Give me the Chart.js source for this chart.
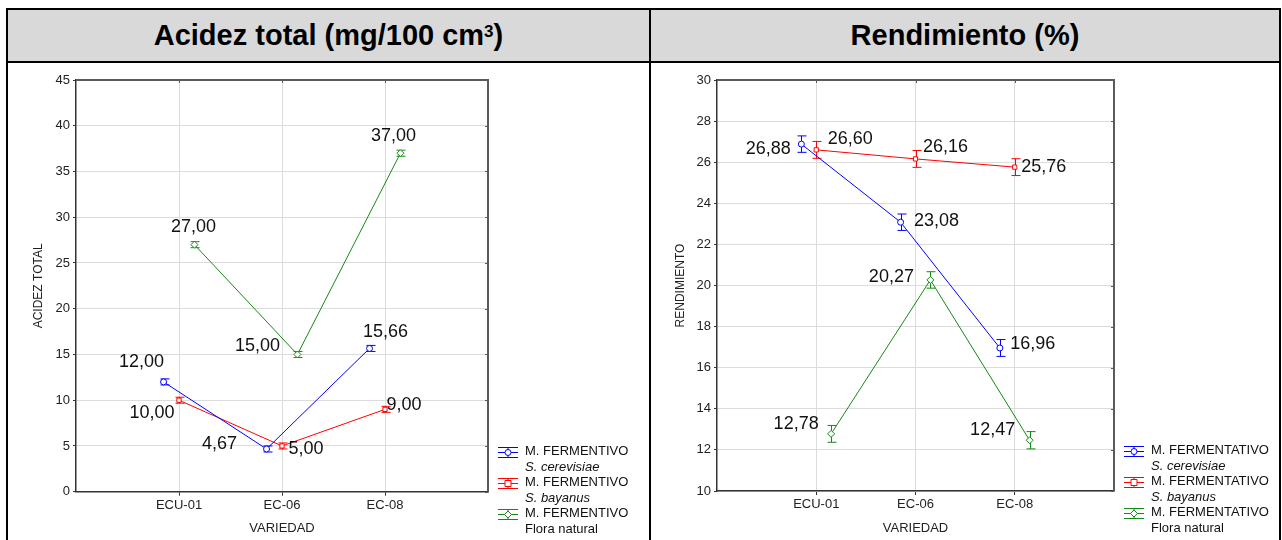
<!DOCTYPE html>
<html>
<head>
<meta charset="utf-8">
<script src="https://cdn.jsdelivr.net/npm/chart.js@4.4.1/dist/chart.umd.min.js"></script>
<style>
  html, body { margin: 0; padding: 0; background: #fff; }
  body { width: 1282px; height: 540px; overflow: hidden; position: relative;
         font-family: "Liberation Sans", Arial, sans-serif; }
  #frame { position: absolute; left: 6px; top: 8px; width: 1275px; height: 600px;
           border: 2px solid #000; box-sizing: border-box; }
  .band { position: absolute; top: 10px; height: 51px; background: #d9d9d9;
          display: flex; align-items: center; justify-content: center;
          font-weight: bold; font-size: 29px; color: #000; white-space: nowrap; }
  .band sup { font-size: 17px; position: relative; top: -4px; }
  #hline { position: absolute; left: 8px; top: 61px; width: 1271px; height: 2px; background: #000; }
  #vline { position: absolute; left: 649px; top: 8px; width: 2px; height: 540px; background: #000; }
  .box { position: absolute; top: 63px; height: 477px; }
</style>
</head>
<body>
<div id="frame"></div>
<div class="band" style="left:8px;width:641px;">Acidez total (mg/100 cm<sup>3</sup>)</div>
<div class="band" style="left:651px;width:628px;">Rendimiento (%)</div>
<div id="hline"></div>
<div id="vline"></div>
<div class="box" style="left:8px;width:641px;"><canvas id="acidez"></canvas></div>
<div class="box" style="left:651px;width:628px;"><canvas id="rendimiento"></canvas></div>

<script>
// Varieties on the horizontal axis
const varieties = ['ECU-01', 'EC-06', 'EC-08'];

// Total acidity (mg/100 cm3) per fermentation method
const acidezCerevisiae = [12.00, 4.67, 15.66];
const acidezBayanus    = [10.00, 5.00, 9.00];
const acidezFlora      = [27.00, 15.00, 37.00];
const acidezErrCerevisiae = [0.33, 0.33, 0.33];
const acidezErrBayanus    = [0.33, 0.33, 0.33];
const acidezErrFlora      = [0.33, 0.33, 0.33];

// Yield (%) per fermentation method
const rendCerevisiae = [26.88, 23.08, 16.96];
const rendBayanus    = [26.60, 26.16, 25.76];
const rendFlora      = [12.78, 20.27, 12.47];
const rendErrCerevisiae = [0.40, 0.40, 0.41];
const rendErrBayanus    = [0.41, 0.41, 0.41];
const rendErrFlora      = [0.41, 0.40, 0.42];

// Legend texts
const acidezMethodName = 'M. FERMENTIVO';
const rendMethodName   = 'M. FERMENTATIVO';
const yeastNames = ['S. cerevisiae', 'S. bayanus', 'Flora natural'];
const yeastItalic = [true, true, false];

// Styling
const colors  = ['#0000ff', '#ff0000', '#138a13'];
const markers = ['circle', 'rect', 'rectRot'];
const dodge   = [-0.15, 0, 0.15];
const FONT = '"Liberation Sans", Arial, sans-serif';

// Value-label offsets in pixels from each point
const acidezLabelOffsets = [
  [[-22, -20], [-47, -5], [16, -16]],
  [[-27, 13], [24, 3], [19, -4]],
  [[-1, -18], [-40, -8], [-7, -17]]
];
const rendLabelOffsets = [
  [[-33, 5], [36, -1], [33, -4]],
  [[34, -11], [30, -12], [29, 0]],
  [[-35, -10], [-39, -3], [-37, -10]]
];

const fmt = v => v.toFixed(2).replace('.', ',');

// Error bars, value labels, plot frame and legend
const decorations = {
  id: 'decorations',
  beforeDatasetsDraw(chart) {
    const ctx = chart.ctx, ys = chart.scales.y;
    ctx.save();
    chart.data.datasets.forEach((ds, k) => {
      const meta = chart.getDatasetMeta(k);
      ctx.strokeStyle = ds.borderColor;
      ctx.lineWidth = 1;
      meta.data.forEach((pt, i) => {
        const v = ds.data[i].y, e = ds.errors[i];
        const x = Math.round(pt.x) + 0.5;
        const y1 = ys.getPixelForValue(v + e), y2 = ys.getPixelForValue(v - e);
        ctx.beginPath();
        ctx.moveTo(x, y1); ctx.lineTo(x, y2);
        ctx.moveTo(x - 4, y1); ctx.lineTo(x + 5, y1);
        ctx.moveTo(x - 4, y2); ctx.lineTo(x + 5, y2);
        ctx.stroke();
      });
    });
    ctx.restore();
  },
  afterDraw(chart) {
    const ctx = chart.ctx, a = chart.chartArea;
    const xs = chart.scales.x, ys = chart.scales.y;
    ctx.save();
    // top and right frame with inward ticks
    ctx.strokeStyle = '#5a5a5a';
    ctx.lineWidth = 2;
    ctx.beginPath();
    ctx.moveTo(a.left, a.top); ctx.lineTo(a.right, a.top); ctx.lineTo(a.right, a.bottom);
    ctx.stroke();
    ctx.lineWidth = 1;
    ctx.beginPath();
    ys.ticks.forEach(t => {
      const y = Math.round(ys.getPixelForValue(t.value)) + 0.5;
      ctx.moveTo(a.right - 3, y); ctx.lineTo(a.right, y);
    });
    xs.ticks.forEach(t => {
      const x = Math.round(xs.getPixelForValue(t.value)) + 0.5;
      ctx.moveTo(x, a.top); ctx.lineTo(x, a.top + 3);
    });
    ctx.stroke();

    // value labels
    ctx.fillStyle = '#111';
    ctx.font = '18px ' + FONT;
    ctx.textAlign = 'center';
    ctx.textBaseline = 'middle';
    chart.data.datasets.forEach((ds, k) => {
      const meta = chart.getDatasetMeta(k);
      meta.data.forEach((pt, i) => {
        const off = ds.offsets[i];
        ctx.fillText(fmt(ds.data[i].y), pt.x + off[0], pt.y + off[1]);
      });
    });

    // legend
    const lx = a.right + 10, tx = a.right + 37;
    let ly = chart.options.legendTop;
    ctx.textAlign = 'left';
    chart.data.datasets.forEach((ds, k) => {
      ctx.strokeStyle = ds.borderColor;
      ctx.lineWidth = 1;
      const cy = Math.round(ly) + 0.5, cx = lx + 10;
      ctx.beginPath();
      ctx.moveTo(lx, cy - 5); ctx.lineTo(lx + 20, cy - 5);
      ctx.moveTo(lx, cy); ctx.lineTo(lx + 20, cy);
      ctx.moveTo(lx, cy + 5); ctx.lineTo(lx + 20, cy + 5);
      ctx.moveTo(cx, cy - 5); ctx.lineTo(cx, cy + 5);
      ctx.stroke();
      ctx.fillStyle = '#fff';
      ctx.beginPath();
      if (k === 0) { ctx.arc(cx, cy, 3, 0, Math.PI * 2); }
      else if (k === 1) { ctx.rect(cx - 3, cy - 3, 6, 6); }
      else { ctx.moveTo(cx, cy - 3.5); ctx.lineTo(cx + 3.5, cy); ctx.lineTo(cx, cy + 3.5); ctx.lineTo(cx - 3.5, cy); ctx.closePath(); }
      ctx.fill(); ctx.stroke();
      ctx.fillStyle = '#111';
      ctx.font = '13px ' + FONT;
      ctx.fillText(ds.label, tx, ly);
      ctx.font = (ds.italic ? 'italic ' : '') + '13px ' + FONT;
      ctx.fillText(ds.sub, tx, ly + 15.5);
      ly += 31;
    });
    ctx.restore();
  }
};

function buildChart(id, cfg) {
  const datasets = cfg.series.map((values, k) => ({
    label: cfg.method,
    sub: yeastNames[k],
    italic: yeastItalic[k],
    data: values.map((v, i) => ({ x: i + 1 + dodge[k], y: v })),
    errors: cfg.errors[k],
    offsets: cfg.offsets[k],
    borderColor: colors[k],
    backgroundColor: '#ffffff',
    borderWidth: 1,
    showLine: true,
    tension: 0,
    pointStyle: markers[k],
    pointRadius: k === 2 ? 3.5 : 3,
    pointHoverRadius: 3,
    pointBorderWidth: 1
  }));

  return new Chart(document.getElementById(id), {
    type: 'scatter',
    data: { datasets },
    options: {
      responsive: true,
      maintainAspectRatio: false,
      animation: false,
      events: [],
      legendTop: cfg.legendTop,
      layout: { padding: { left: 0, right: cfg.padRight, top: 17, bottom: 0 } },
      plugins: { legend: { display: false }, tooltip: { enabled: false } },
      scales: {
        x: {
          type: 'linear', min: 0, max: 4,
          afterBuildTicks: s => { s.ticks = varieties.map((_, i) => ({ value: i + 1 })); },
          afterFit: s => { s.height = cfg.xHeight; },
          ticks: {
            autoSkip: false, maxRotation: 0, padding: 2,
            color: '#222', font: { family: FONT, size: 13 },
            callback: v => varieties[Math.round(v) - 1]
          },
          grid: { color: '#dcdcdc', lineWidth: 1, tickLength: 4, tickColor: '#333' },
          border: { color: '#333', width: 1.5 },
          title: { display: true, text: 'VARIEDAD', color: '#222',
                   font: { family: FONT, size: 13 }, padding: { top: 0, bottom: 4 } }
        },
        y: {
          type: 'linear', min: cfg.yMin, max: cfg.yMax,
          afterFit: s => { s.width = cfg.yWidth; },
          ticks: { stepSize: cfg.yStep, padding: 3, color: '#222', font: { family: FONT, size: 13 } },
          grid: { color: '#dcdcdc', lineWidth: 1, tickLength: 3, tickColor: '#333' },
          border: { color: '#333', width: 1.5 },
          title: { display: true, text: cfg.yTitle, color: '#222',
                   font: { family: FONT, size: 12 }, padding: { top: cfg.yTitlePad, bottom: 0 } }
        }
      }
    },
    plugins: [decorations]
  });
}

buildChart('acidez', {
  method: acidezMethodName,
  series: [acidezCerevisiae, acidezBayanus, acidezFlora],
  errors: [acidezErrCerevisiae, acidezErrBayanus, acidezErrFlora],
  offsets: acidezLabelOffsets,
  yMin: 0, yMax: 45, yStep: 5, yTitle: 'ACIDEZ TOTAL',
  yWidth: 68, yTitlePad: 23, padRight: 161, xHeight: 48.3, legendTop: 388.7
});

buildChart('rendimiento', {
  method: rendMethodName,
  series: [rendCerevisiae, rendBayanus, rendFlora],
  errors: [rendErrCerevisiae, rendErrBayanus, rendErrFlora],
  offsets: rendLabelOffsets,
  yMin: 10, yMax: 30, yStep: 2, yTitle: 'RENDIMIENTO',
  yWidth: 66, yTitlePad: 22, padRight: 165, xHeight: 49, legendTop: 387.7
});
</script>
</body>
</html>
